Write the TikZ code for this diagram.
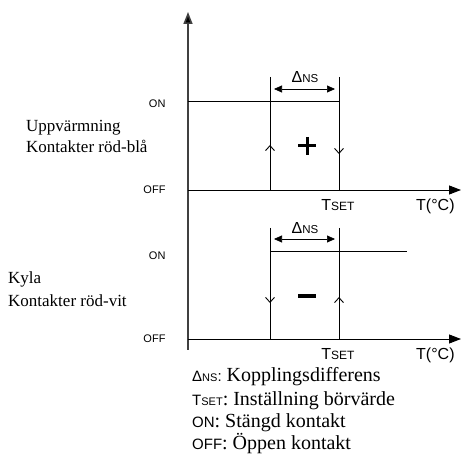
\documentclass[tikz,border=0pt]{standalone}
\usepackage{fontspec}
\setmainfont{Liberation Serif}
\setsansfont{Liberation Sans}
\usetikzlibrary{arrows.meta}
\newcommand{\fs}[1]{\fontsize{#1}{#1}\selectfont}
\newcommand{\dns}[2]{{\sffamily\fs{#1}Δ\fs{#2}NS}}
\newcommand{\tset}[2]{{\sffamily\fs{#1}T\fs{#2}SET}}

\begin{document}
\begin{tikzpicture}[x=1pt, y=-1pt, line join=round,
  axis/.style={line width=0.9pt, -{Triangle[length=12pt,width=9pt]}},
  sw/.style={line width=0.8pt},
  dir/.style={line width=0.9pt, -{Straight Barb[length=5pt,width=9pt]}},
  span/.style={line width=0.7pt, {Triangle[length=8pt,width=7pt]}-{Triangle[length=8pt,width=7pt]}},
  lab/.style={font=\sffamily\fs{11}},
  txt/.style={font=\fs{17}, anchor=base west, inner sep=0pt},
  leg/.style={font=\fs{20}, anchor=base west, inner sep=0pt}]
\useasboundingbox (0,0) rectangle (461,454);
% coordinates
\coordinate (Top) at (188,12);
\coordinate (Bot) at (188,350);
\coordinate (H1) at (188,190);
\coordinate (H2) at (188,339);
\coordinate (E1) at (461,190);
\coordinate (E2) at (461,339);
\coordinate (A1) at (270,77);
\coordinate (B1) at (339,77);
\coordinate (A2) at (270,228);
\coordinate (B2) at (339,228);
% axes
\draw[line width=1.6pt, black!75, -{Triangle[length=12pt,width=9pt,fill=black]}] (Bot) -- (Top);
\draw[axis] (H1) -- (E1);
\draw[axis] (H2) -- (E2);
% upper diagram
\draw[sw] (A1) -- (A1 |- H1);
\draw[sw] (B1) -- (B1 |- H1);
\draw[sw] (188,101) -- (339,101);
\draw[span] (274,89) -- (335,89);
\draw[dir] (270,162) -- (270,145);
\draw[dir] (339,138) -- (339,154);
\draw[line width=3pt] (298,146) -- (316,146);
\draw[line width=3pt] (307,137) -- (307,155);
% lower diagram
\draw[sw] (A2) -- (A2 |- H2);
\draw[sw] (B2) -- (B2 |- H2);
\draw[sw] (270,251) -- (407,251);
\draw[span] (274,239) -- (335,239);
\draw[dir] (270,287) -- (270,303);
\draw[dir] (339,313) -- (339,297);
\draw[line width=3.5pt] (298,296) -- (316,296);
% labels
\node[lab, anchor=east] at (169,104) {ON};
\node[lab, anchor=east] at (169,190) {OFF};
\node[lab, anchor=east] at (169,256) {ON};
\node[lab, anchor=east] at (169,339) {OFF};
\node[anchor=base, inner sep=0pt] at (305,83) {\dns{16}{11.5}};
\node[anchor=base, inner sep=0pt] at (305,234) {\dns{16}{11.5}};
\node[anchor=base, inner sep=0pt] at (338,211) {\tset{16}{12}};
\node[anchor=base, inner sep=0pt] at (338,360) {\tset{16}{12}};
\node[anchor=base west, inner sep=0pt, font=\sffamily\fs{16}] at (416,211) {T(°C)};
\node[anchor=base west, inner sep=0pt, font=\sffamily\fs{16}] at (416,360) {T(°C)};
\node[txt] at (26,132) {Uppvärmning};
\node[txt] at (26,153) {Kontakter röd-blå};
\node[txt] at (8,284) {Kyla};
\node[txt] at (8,307) {Kontakter röd-vit};
% legend
\node[leg] at (192,382) {\dns{15}{11}{\sffamily\fs{15}:} Kopplingsdifferens};
\node[leg] at (192,406) {\tset{15}{11}: Inställning börvärde};
\node[leg] at (192,428) {{\sffamily\fs{15}ON}: Stängd kontakt};
\node[leg] at (192,450) {{\sffamily\fs{15}OFF}: Öppen kontakt};
\end{tikzpicture}
\end{document}
